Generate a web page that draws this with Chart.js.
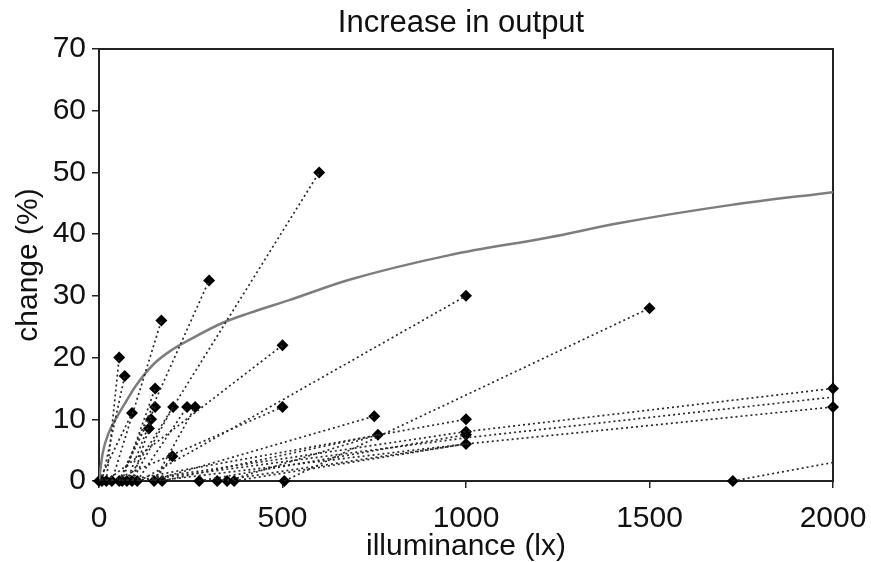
<!DOCTYPE html>
<html>
<head>
<meta charset="utf-8">
<title>Increase in output</title>
<script src="https://cdn.jsdelivr.net/npm/chart.js@4.4.1/dist/chart.umd.min.js"></script>
<style>
  html, body { margin: 0; padding: 0; background: #fff; }
  #wrap { width: 871px; height: 562px; }
</style>
</head>
<body>
<div id="wrap"><canvas id="chart" width="871" height="562"></canvas></div>
<script>
// illuminance (lx) / change (%) — one polyline per study, starting at its baseline
const studyX = [
  [20, 55], [8, 70], [35, 170], [55, 300], [76, 600], [0, 90],
  [63, 153], [55, 153], [90, 202], [104, 240], [150, 262], [76, 142],
  [90, 136], [150, 200], [20, 500], [35, 500], [110, 1000], [140, 750],
  [505, 1500], [172, 760], [63, 1000], [90, 1000, 2000], [104, 1000, 2000],
  [150, 1000, 2000], [273, 1000], [322, 1000], [349, 760], [368, 1000],
  [1727, 2000]
];
const studyY = [
  [0, 20], [0, 17], [0, 26], [0, 32.5], [0, 50], [0, 11],
  [0, 15], [0, 12], [0, 12], [0, 12], [0, 12], [0, 10],
  [0, 8.5], [0, 4], [0, 22], [0, 12], [0, 30], [0, 10.5],
  [0, 28], [0, 7.5], [0, 10], [0, 8, 15], [0, 7, 13.6],
  [0, 6, 12], [0, 7.5], [0, 6], [0, 7.5], [0, 6],
  [0, 3]
];

// diamond markers
const markerX = [0, 8, 20, 35, 55, 63, 76, 90, 104, 150, 172, 273, 322, 349, 368, 505, 1727,
  55, 70, 90, 170, 300, 600, 153, 153, 202, 240, 262, 142, 136, 200, 500, 500,
  750, 760, 1000, 1000, 1000, 1000, 1000, 1500, 2000, 2000];
const markerY = [0, 0, 0, 0, 0, 0, 0, 0, 0, 0, 0, 0, 0, 0, 0, 0, 0,
  20, 17, 11, 26, 32.5, 50, 15, 12, 12, 12, 12, 10, 8.5, 4, 22, 12,
  10.5, 7.5, 30, 10, 8, 7.5, 6, 28, 15, 12];

// fitted curve (solid grey)
const curveX = [0, 10, 25, 50, 75, 100, 150, 200, 250, 336, 409, 518, 682, 955, 1228, 1419, 1719, 2000];
const curveY = [0, 4.5, 7.6, 10.5, 13, 15.4, 19.0, 21.3, 23, 25.6, 27.2, 29.3, 32.6, 36.6, 39.5, 41.8, 44.7, 46.8];

const xTicks = [0, 500, 1000, 1500, 2000];
const yTicks = [0, 10, 20, 30, 40, 50, 60, 70];
const titleText = 'Increase in output';

const FONT = 'Liberation Sans, Arial, Helvetica, sans-serif';
const zip = (xs, ys) => xs.map((x, i) => ({ x, y: ys[i] }));

const datasets = [];
studyX.forEach((xs, i) => {
  datasets.push({
    data: zip(xs, studyY[i]),
    showLine: true,
    borderColor: '#2a2a2a',
    borderWidth: 1.7,
    borderDash: [2, 3],
    pointRadius: 0,
  });
});
datasets.push({
  data: zip(curveX, curveY),
  showLine: true,
  borderColor: '#7d7d7d',
  borderWidth: 2.5,
  cubicInterpolationMode: 'monotone',
  pointRadius: 0,
});
datasets.push({
  data: zip(markerX, markerY),
  showLine: false,
  pointStyle: 'rectRot',
  pointRadius: 6,
  pointBackgroundColor: '#000',
  pointBorderColor: '#000',
  pointBorderWidth: 0,
  clip: false,
});

// box around the plot area + title centred over it
const frame = {
  id: 'frame',
  beforeDatasetsDraw(chart) {
    const a = chart.chartArea, ctx = chart.ctx;
    ctx.save();
    ctx.strokeStyle = '#222';
    ctx.lineWidth = 2;
    ctx.strokeRect(a.left, a.top, a.right - a.left, a.bottom - a.top);
    ctx.fillStyle = '#111';
    ctx.font = '31px ' + FONT;
    ctx.textAlign = 'center';
    ctx.textBaseline = 'middle';
    ctx.fillText(titleText, (a.left + a.right) / 2 - 5, 23);
    ctx.restore();
  }
};

new Chart(document.getElementById('chart'), {
  type: 'scatter',
  data: { datasets },
  plugins: [frame],
  options: {
    responsive: false,
    devicePixelRatio: 1,
    animation: false,
    layout: { padding: { left: 0, right: 38, top: 49, bottom: 0 } },
    plugins: {
      legend: { display: false },
      tooltip: { enabled: false },
      title: { display: false }
    },
    scales: {
      x: {
        type: 'linear',
        min: 0, max: 2000,
        afterBuildTicks: s => { s.ticks = xTicks.map(v => ({ value: v })); },
        afterFit: s => { s.height = 81; s.paddingLeft = 0; s.paddingRight = 0; },
        border: { display: false },
        grid: { drawOnChartArea: false, drawTicks: true, tickLength: 7, color: '#222', lineWidth: 1.5 },
        ticks: { color: '#111', padding: 13, font: { family: FONT, size: 30 }, callback: v => String(v) },
        title: {
          display: true, text: 'illuminance (lx)', color: '#111',
          font: { family: FONT, size: 30, lineHeight: 1 }, padding: { top: 1, bottom: 0 }
        }
      },
      y: {
        type: 'linear',
        min: 0, max: 70,
        afterBuildTicks: s => { s.ticks = yTicks.map(v => ({ value: v })); },
        afterFit: s => { s.width = 99; s.paddingTop = 0; s.paddingBottom = 0; },
        border: { display: false },
        grid: { drawOnChartArea: false, drawTicks: true, tickLength: 7, color: '#222', lineWidth: 1.5 },
        ticks: { color: '#111', padding: 6, font: { family: FONT, size: 30 }, callback: v => String(v) },
        title: {
          display: true, text: 'change (%)', color: '#111',
          font: { family: FONT, size: 30 }, padding: { top: 11, bottom: 0 }
        }
      }
    }
  }
});
</script>
</body>
</html>
